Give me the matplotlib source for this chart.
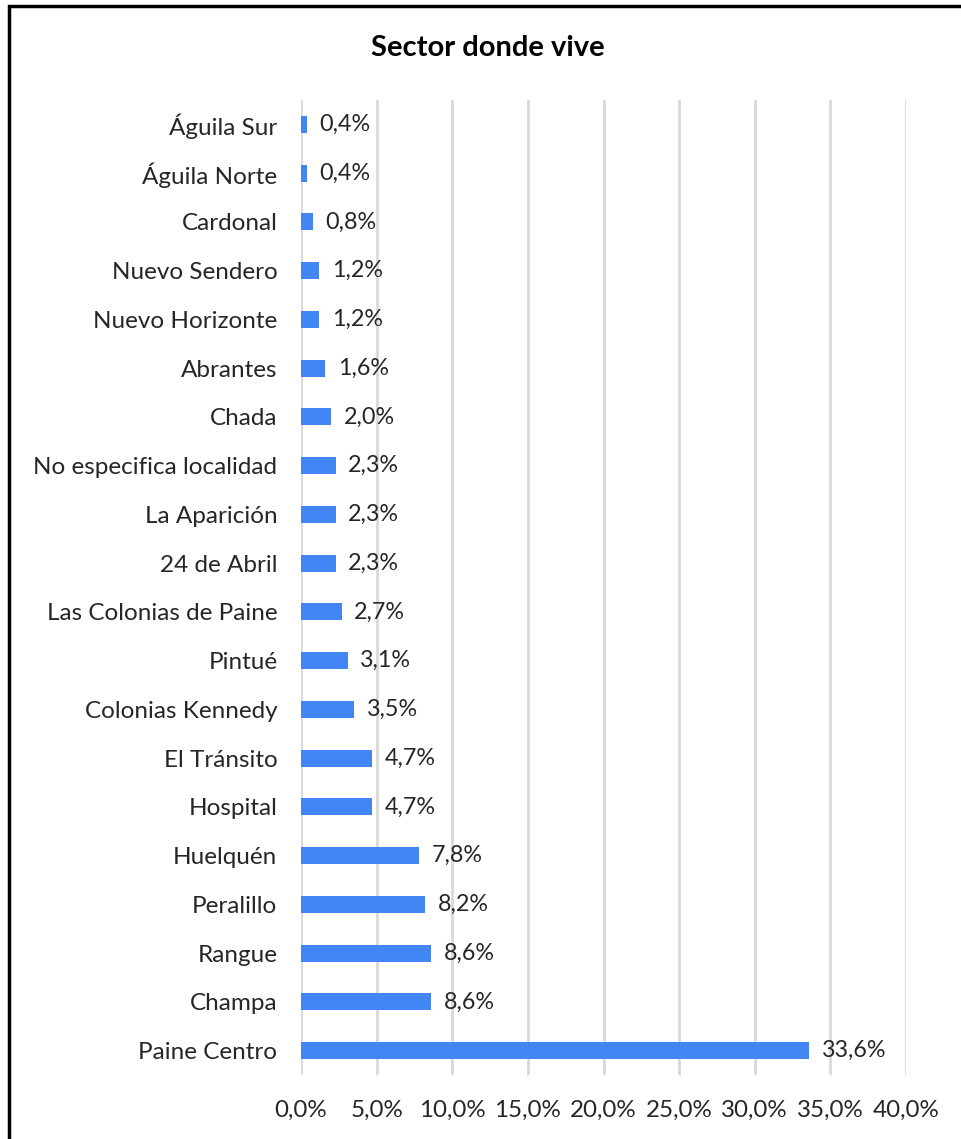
import matplotlib.pyplot as plt
from matplotlib.patches import Rectangle

# Datos
sectores = ['Águila Sur', 'Águila Norte', 'Cardonal', 'Nuevo Sendero', 'Nuevo Horizonte',
            'Abrantes', 'Chada', 'No especifica localidad', 'La Aparición', '24 de Abril',
            'Las Colonias de Paine', 'Pintué', 'Colonias Kennedy', 'El Tránsito', 'Hospital',
            'Huelquén', 'Peralillo', 'Rangue', 'Champa', 'Paine Centro']
porcentajes = [0.4, 0.4, 0.8, 1.2, 1.2, 1.6, 2.0, 2.3, 2.3, 2.3,
               2.7, 3.1, 3.5, 4.7, 4.7, 7.8, 8.2, 8.6, 8.6, 33.6]
ticks_x = [0, 5, 10, 15, 20, 25, 30, 35, 40]

plt.rcParams['font.family'] = ['Lato', 'DejaVu Sans']

fig = plt.figure(figsize=(9.62, 11.39), dpi=100)
ax = fig.add_axes([0.3129, 0.0562, 0.6289, 0.856])

pos = list(range(len(sectores)))
ax.barh(pos, porcentajes, height=0.35, color='#4285F4', zorder=3)

for y, v in zip(pos, porcentajes):
    ax.annotate(f'{v:.1f}%'.replace('.', ','), (v, y), xytext=(9, 0),
                textcoords='offset points', va='center', ha='left',
                fontsize=16.8, color='#262626')

ax.set_ylim(len(sectores) - 0.5, -0.5)
ax.set_xlim(0, 40)
ax.set_yticks(pos)
ax.set_yticklabels(sectores, fontsize=17.5, color='#262626')
ax.set_xticks(ticks_x)
ax.set_xticklabels([f'{t:.1f}%'.replace('.', ',') for t in ticks_x], fontsize=17.4, color='#262626')
ax.tick_params(length=0)
ax.tick_params(axis='y', pad=17)
ax.tick_params(axis='x', pad=18)
ax.grid(axis='x', color='#d9d9d9', linewidth=2, zorder=0)
for s in ax.spines.values():
    s.set_visible(False)

fig.text(0.507, 0.958, 'Sector donde vive', ha='center', va='center',
         fontsize=21, fontweight='bold', color='black')

# Marco del gráfico (cortado a la derecha y abajo)
fig.patches.append(Rectangle((0.0094, -0.05), 1.2, 1.0448, transform=fig.transFigure,
                             fill=False, edgecolor='black', linewidth=2.5))

fig.savefig('out.png', dpi=100)
